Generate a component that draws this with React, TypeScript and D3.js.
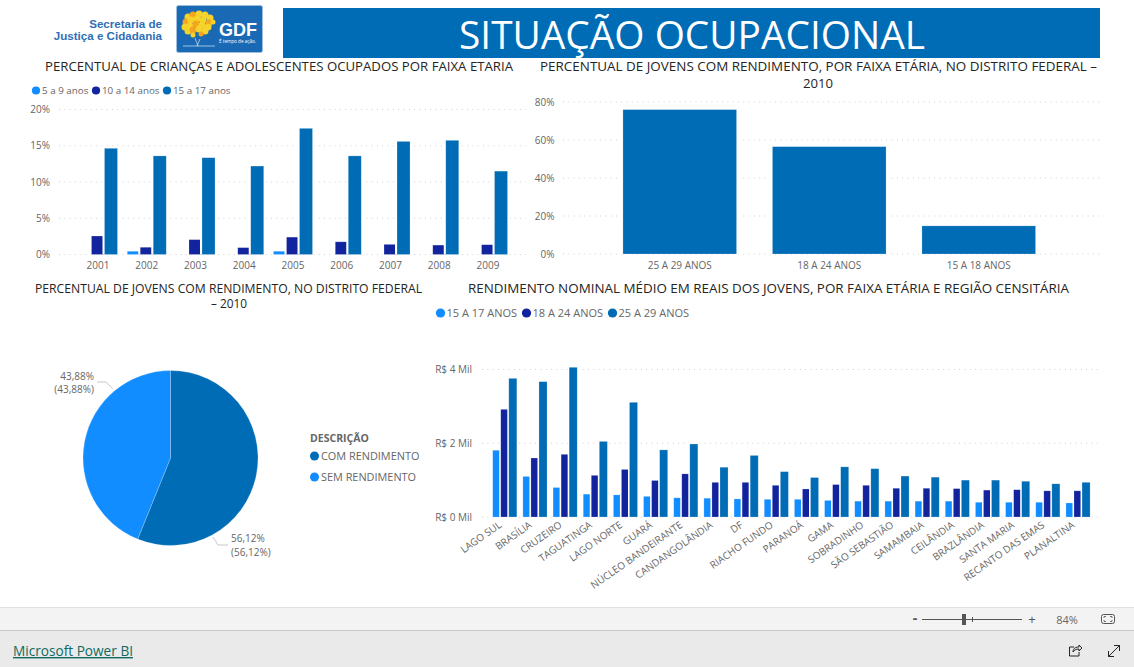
import React from "react";
import * as d3 from "d3";

const FONT = "'Open Sans', 'DejaVu Sans', sans-serif";
const C_LIGHT = "#118dff";
const C_NAVY = "#12239e";
const C_BLUE = "#006cb5";
const TXT = "#666666";

const years = ["2001", "2002", "2003", "2004", "2005", "2006", "2007", "2008", "2009"];
const age5to9 = [0, 0.45, 0, 0, 0.45, 0, 0, 0, 0];
const age10to14 = [2.55, 1.0, 2.05, 0.95, 2.4, 1.75, 1.4, 1.3, 1.35];
const age15to17 = [14.65, 13.6, 13.35, 12.2, 17.4, 13.6, 15.6, 15.75, 11.5];
const ticks1 = [0, 5, 10, 15, 20];

const incomeAges = ["25 A 29 ANOS", "18 A 24 ANOS", "15 A 18 ANOS"];
const incomeShare = [76, 56.5, 14.8];
const ticks2 = [0, 20, 40, 60, 80];

const pieNames = ["COM RENDIMENTO", "SEM RENDIMENTO"];
const pieValues = [56.12, 43.88];

const regions = ["LAGO SUL", "BRASÍLIA", "CRUZEIRO", "TAGUATINGA", "LAGO NORTE", "GUARÁ", "NÚCLEO BANDEIRANTE", "CANDANGOLÂNDIA", "DF", "RIACHO FUNDO", "PARANOÁ", "GAMA", "SOBRADINHO", "SÃO SEBASTIÃO", "SAMAMBAIA", "CEILÂNDIA", "BRAZLÂNDIA", "SANTA MARIA", "RECANTO DAS EMAS", "PLANALTINA"];
const r15to17 = [1.81, 1.1, 0.8, 0.62, 0.6, 0.56, 0.52, 0.51, 0.49, 0.48, 0.48, 0.45, 0.43, 0.43, 0.43, 0.43, 0.4, 0.4, 0.4, 0.38];
const r18to24 = [2.92, 1.6, 1.7, 1.13, 1.29, 0.99, 1.17, 0.94, 0.94, 0.86, 0.76, 0.88, 0.86, 0.78, 0.78, 0.77, 0.73, 0.74, 0.71, 0.71];
const r25to29 = [3.76, 3.67, 4.06, 2.05, 3.11, 1.82, 1.98, 1.35, 1.67, 1.23, 1.07, 1.36, 1.31, 1.11, 1.08, 1.0, 1.0, 0.97, 0.9, 0.94];
const ticks4 = [0, 2, 4];

const treeDots = [[188,17,3.5],[193,15,3.5],[199,14,3.5],[205,15,3.5],[210,18,3.5],[186,22,3.5],[191,20,3.5],[197,19,3.5],[203,20,3.5],[209,23,3.5],[213,22,2.5],[185,27,3.5],[190,26,3.5],[196,24,3.5],[202,25,3.5],[208,27,3.5],[188,31,3.5],[193,30,3.5],[199,29,3.5],[205,31,3.5],[193,35,2.5],[201,34,2.5]];

function Grid({ x1, x2, y }: { x1: number; x2: number; y: number }) {
  return <line x1={x1} x2={x2} y1={y} y2={y} stroke="#cfcfcf" strokeWidth={1} strokeDasharray="1 4.3" />;
}

function Bar({ x, y, w, h, fill, halo }: { x: number; y: number; w: number; h: number; fill: string; halo: number }) {
  return (
    <g>
      <rect x={x - halo} y={y - halo} width={w + 2 * halo} height={h + halo} fill="#fff" />
      <rect x={x} y={y} width={w} height={h} fill={fill} stroke="#fff" strokeOpacity={0.35} strokeWidth={0.6} />
    </g>
  );
}

function Chart1() {
  const x0 = d3.scaleBand().domain(years).range([73.6, 512.4]).paddingInner(0.2).paddingOuter(0.1);
  const keys = [age5to9, age10to14, age15to17];
  const cols = [C_LIGHT, C_NAVY, C_BLUE];
  const x1 = d3.scaleBand<number>().domain([0, 1, 2]).range([0, x0.bandwidth()]);
  const y = d3.scaleLinear().domain([0, 20]).range([254.5, 109.5]);
  return (
    <g>
      {ticks1.map((t) => (
        <g key={t}>
          <Grid x1={59} x2={526} y={y(t)} />
          <text x={50} y={y(t) + 3.5} textAnchor="end" fontSize={10} fill={TXT}>{t}%</text>
        </g>
      ))}
      {years.map((yr, i) => (
        <g key={yr}>
          {keys.map((k, s) => k[i] > 0 ? (
            <Bar key={s} x={x0(yr)! + x1(s)!} w={x1.bandwidth()} y={y(k[i])} h={y(0) - y(k[i])} fill={cols[s]} halo={2} />
          ) : null)}
          <text x={x0(yr)! + x0.bandwidth() / 2} y={269} textAnchor="middle" fontSize={10} fill={TXT}>{yr}</text>
        </g>
      ))}
    </g>
  );
}

function Chart2() {
  const x = d3.scaleBand().domain(incomeAges).range([605, 1053.5]).paddingInner(0.24).paddingOuter(0.12);
  const y = d3.scaleLinear().domain([0, 80]).range([254, 102]);
  return (
    <g>
      {ticks2.map((t) => (
        <g key={t}>
          <Grid x1={563} x2={1100} y={y(t)} />
          <text x={554.5} y={y(t) + 3.5} textAnchor="end" fontSize={10} fill={TXT}>{t}%</text>
        </g>
      ))}
      {incomeAges.map((a, i) => (
        <g key={a}>
          <Bar x={x(a)!} w={x.bandwidth()} y={y(incomeShare[i])} h={y(0) - y(incomeShare[i])} fill={C_BLUE} halo={3} />
          <text x={x(a)! + x.bandwidth() / 2} y={269} textAnchor="middle" fontSize={10} fill={TXT}>{a}</text>
        </g>
      ))}
    </g>
  );
}

function Chart3() {
  const arcs = d3.pie<number>().sort(null)(pieValues);
  const arc = d3.arc<d3.PieArcDatum<number>>().innerRadius(0).outerRadius(87.5);
  const lab = (v: number) => v.toFixed(2).replace(".", ",") + "%";
  return (
    <g>
      <g transform="translate(170.5,458)">
        {arcs.map((a, i) => (
          <path key={i} d={arc(a)!} fill={i === 0 ? C_BLUE : C_LIGHT} stroke="#fff" strokeOpacity={0.4} strokeWidth={0.5} />
        ))}
      </g>
      <polyline points="113,389 106,382 97,382" fill="none" stroke="#c8c8c8" />
      <polyline points="213,537 218,545 228,545" fill="none" stroke="#c8c8c8" />
      <text x={94} y={380} textAnchor="end" fontSize={10} fill={TXT}>{lab(pieValues[1])}</text>
      <text x={94} y={393} textAnchor="end" fontSize={10} fill={TXT}>({lab(pieValues[1])})</text>
      <text x={231} y={542} fontSize={10} fill={TXT}>{lab(pieValues[0])}</text>
      <text x={231} y={556} fontSize={10} fill={TXT}>({lab(pieValues[0])})</text>
      <text x={310} y={442} fontSize={10.5} fontWeight={700} fill={TXT}>DESCRIÇÃO</text>
      {pieNames.map((n, i) => (
        <g key={n}>
          <circle cx={314.5} cy={456 + i * 21} r={4.5} fill={i === 0 ? C_BLUE : C_LIGHT} />
          <text x={321} y={460 + i * 21} fontSize={10.9} fill={TXT}>{n}</text>
        </g>
      ))}
    </g>
  );
}

function Chart4() {
  const x0 = d3.scaleBand().domain(regions).range([489.7, 1093.1]).paddingInner(0.2).paddingOuter(0.1);
  const keys = [r15to17, r18to24, r25to29];
  const cols = [C_LIGHT, C_NAVY, C_BLUE];
  const x1 = d3.scaleBand<number>().domain([0, 1, 2]).range([0, x0.bandwidth()]);
  const y = d3.scaleLinear().domain([0, 4]).range([517, 369.5]);
  return (
    <g>
      {ticks4.map((t) => (
        <g key={t}>
          <Grid x1={482} x2={1100} y={y(t)} />
          <text x={472} y={y(t) + 3.5} textAnchor="end" fontSize={10} fill={TXT}>R$ {t} Mil</text>
        </g>
      ))}
      {regions.map((r, i) => {
        const cx = x0(r)! + x0.bandwidth() / 2;
        return (
          <g key={r}>
            {keys.map((k, s) => (
              <Bar key={s} x={x0(r)! + x1(s)!} w={x1.bandwidth()} y={y(k[i])} h={y(0) - y(k[i])} fill={cols[s]} halo={1.5} />
            ))}
            <text transform={`translate(${cx - 2.5},${526.5}) rotate(-35)`} textAnchor="end" fontSize={10} fill={TXT}>{r}</text>
          </g>
        );
      })}
    </g>
  );
}

function Legend({ items, xs, y, size, gap }: { items: string[]; xs: number[]; y: number; size: number; gap: number }) {
  const cols = [C_LIGHT, C_NAVY, C_BLUE];
  return (
    <g>
      {items.map((t, i) => (
        <g key={t}>
          <circle cx={xs[i]} cy={y} r={size * 0.42} fill={cols[i]} />
          <text x={xs[i] + gap} y={y + size * 0.36} fontSize={size} fill={TXT}>{t}</text>
        </g>
      ))}
    </g>
  );
}

function Title({ x, y, w, children }: { x: number; y: number; w: number; children: string }) {
  return <text x={x} y={y} textLength={w} lengthAdjust="spacingAndGlyphs" fontSize={12} fill="#252423">{children}</text>;
}

export default function App() {
  return (
    <svg width={1134} height={667} viewBox="0 0 1134 667" fontFamily={FONT} style={{ position: "absolute", left: 0, top: 0, display: "block", background: "#fff" }}>
      {/* header */}
      <text x={162} y={28} textAnchor="end" fontSize={11.6} fontWeight={700} fill="#2f6fb5" fontFamily="'Liberation Sans', sans-serif">Secretaria de</text>
      <text x={162} y={40} textAnchor="end" fontSize={11.6} fontWeight={700} fill="#2f6fb5" fontFamily="'Liberation Sans', sans-serif">Justiça e Cidadania</text>
      <rect x={176.5} y={5.5} width={86} height={47} rx={2} fill="#1a69b5" stroke="#9ebfe0" />
      <g>
        {treeDots.map((d, i) => <circle key={i} cx={d[0]} cy={d[1]} r={d[2]} fill={i % 4 === 1 ? "#f2a51e" : "#f6d32a"} />)}
        <path d="M183 46 H197 L200 39 M197 46 H215 M198 46 L195 38" stroke="#d8e6f4" strokeWidth={0.7} fill="none" />
      </g>
      <text x={219} y={35.5} textLength={38} lengthAdjust="spacingAndGlyphs" fontSize={18} fontWeight={700} fill="#fff" fontFamily="'Liberation Sans', sans-serif">GDF</text>
      <text x={219} y={42.5} textLength={37} lengthAdjust="spacingAndGlyphs" fontSize={4.5} fill="#fff">É tempo de ação.</text>
      <rect x={283} y={8} width={817} height={50} fill={C_BLUE} />
      <text x={459} y={48.5} textLength={466} lengthAdjust="spacingAndGlyphs" fontSize={38} fill="#fff" fontFamily="'Open Sans', sans-serif">SITUAÇÃO OCUPACIONAL</text>

      {/* titles */}
      <Title x={45} y={70.5} w={468}>PERCENTUAL DE CRIANÇAS E ADOLESCENTES OCUPADOS POR FAIXA ETARIA</Title>
      <Title x={540} y={70.5} w={557}>PERCENTUAL DE JOVENS COM RENDIMENTO, POR FAIXA ETÁRIA, NO DISTRITO FEDERAL –</Title>
      <Title x={803} y={88} w={30}>2010</Title>
      <Title x={35} y={292.5} w={387}>PERCENTUAL DE JOVENS COM RENDIMENTO, NO DISTRITO FEDERAL</Title>
      <Title x={211} y={308} w={36}>– 2010</Title>
      <Title x={468} y={292.5} w={601}>RENDIMENTO NOMINAL MÉDIO EM REAIS DOS JOVENS, POR FAIXA ETÁRIA E REGIÃO CENSITÁRIA</Title>

      <Legend items={["5 a 9 anos", "10 a 14 anos", "15 a 17 anos"]} xs={[36, 96, 167]} y={90.5} size={9.8} gap={6} />
      <Legend items={["15 A 17 ANOS", "18 A 24 ANOS", "25 A 29 ANOS"]} xs={[440.5, 526.5, 612.5]} y={313} size={11} gap={6} />

      <Chart1 />
      <Chart2 />
      <Chart3 />
      <Chart4 />

      {/* footer */}
      <rect x={0} y={607} width={1134} height={23} fill="#f3f3f3" />
      <line x1={0} x2={1134} y1={607.5} y2={607.5} stroke="#e1e1e1" />
      <rect x={0} y={630} width={1134} height={37} fill="#eaeaea" />
      <line x1={0} x2={1134} y1={630.5} y2={630.5} stroke="#c8c8c8" />
      <text x={13} y={656} textLength={120} lengthAdjust="spacingAndGlyphs" fontSize={14} fill="#0f6a62" textDecoration="underline">Microsoft Power BI</text>
      <text x={915} y={623} textAnchor="middle" fontSize={14} fontWeight={700} fill="#555">-</text>
      <line x1={922} x2={1022} y1={619.5} y2={619.5} stroke="#555" />
      <rect x={962} y={614} width={4} height={11} fill="#555" />
      <line x1={972.5} x2={972.5} y1={617} y2={622} stroke="#555" />
      <text x={1032} y={624} textAnchor="middle" fontSize={13} fill="#555">+</text>
      <text x={1067} y={623.5} textAnchor="middle" fontSize={11} fill={TXT}>84%</text>
      <rect x={1101.5} y={614.5} width={13} height={9} rx={2} fill="none" stroke="#555" />
      <path d="M1104 618 V616.5 H1106 M1112 618 V616.5 H1110 M1104 620 V621.5 H1106 M1112 620 V621.5 H1110" fill="none" stroke="#555" strokeWidth={0.8} />
      <path d="M1074 647 H1069.5 V656 H1079 V652" fill="none" stroke="#252423" />
      <path d="M1073 652 C1073 648 1076 647 1079 647 V645 L1082 648 L1079 651 V649 C1076 649 1074 650 1073 652 Z" fill="none" stroke="#252423" />
      <path d="M1108.5 656.5 L1119.5 645.5 M1114 645.5 H1119.5 V651 M1108.5 651 V656.5 H1114" fill="none" stroke="#252423" />
    </svg>
  );
}
